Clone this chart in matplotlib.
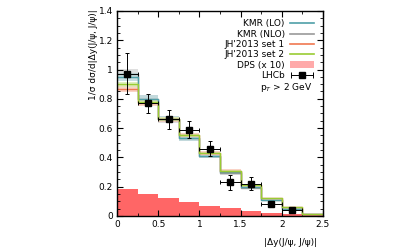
import numpy as np
import matplotlib.pyplot as plt
from matplotlib.patches import Patch
from matplotlib.lines import Line2D
from matplotlib.container import ErrorbarContainer
from matplotlib.legend_handler import HandlerErrorbar

# bin edges in |dy|
edges = np.arange(0, 2.51, 0.25)

# theory predictions (normalised), one value per bin
kmr_lo = [0.95, 0.80, 0.66, 0.53, 0.41, 0.30, 0.20, 0.11, 0.05, 0.01]
kmr_nlo = [0.97, 0.80, 0.66, 0.53, 0.41, 0.29, 0.19, 0.11, 0.05, 0.01]
jh_set1 = [0.87, 0.77, 0.66, 0.55, 0.43, 0.31, 0.21, 0.12, 0.06, 0.01]
jh_set2 = [0.90, 0.78, 0.66, 0.55, 0.43, 0.31, 0.21, 0.12, 0.06, 0.01]
dps = [0.182, 0.15, 0.12, 0.095, 0.07, 0.052, 0.033, 0.021, 0.012, 0.005]

# LHCb data
lhcb_x = [0.125, 0.375, 0.625, 0.875, 1.125, 1.375, 1.625, 1.875, 2.125]
lhcb_y = [0.97, 0.77, 0.66, 0.59, 0.46, 0.23, 0.22, 0.08, 0.04]
lhcb_err = [0.14, 0.065, 0.065, 0.055, 0.05, 0.05, 0.045, 0.022, 0.022]

fig = plt.figure(figsize=(4.14, 2.49), dpi=100)
ax = fig.add_axes([0.283, 0.133, 0.497, 0.823])
fs = 6.5

def step_vals(v):
    return np.append(v, v[-1])

# DPS x10 filled histogram
ax.fill_between(edges, 0, step_vals(dps), step='post', color='#ff6666', lw=0)

series = [
    (kmr_nlo, '#999999', '#d8d8d8', 0.035),
    (kmr_lo, '#4f9fa8', '#bcd8dc', 0.03),
    (jh_set1, '#f07850', '#f8c8b8', 0.025),
    (jh_set2, '#99cc33', '#d8ecb0', 0.02),
]
for vals, col, band, w in series:
    v = np.array(vals)
    ax.fill_between(edges, step_vals(v * (1 - w)), step_vals(v * (1 + w)),
                    step='post', color=band, lw=0, alpha=0.8)
for vals, col, band, w in series:
    ax.step(edges, step_vals(np.array(vals)), where='post', color=col, lw=1.0)

ax.errorbar(lhcb_x, lhcb_y, xerr=0.125, yerr=lhcb_err, fmt='s', color='black',
            ms=4.5, elinewidth=0.7, capsize=1.5, capthick=0.7)

ax.set_xlim(0, 2.5)
ax.set_ylim(0, 1.4)
ax.set_xticks([0, 0.5, 1, 1.5, 2, 2.5])
ax.set_xticklabels(['0', '0.5', '1', '1.5', '2', '2.5'])
ax.set_yticks([0, 0.2, 0.4, 0.6, 0.8, 1, 1.2, 1.4])
ax.set_yticklabels(['0', '0.2', '0.4', '0.6', '0.8', '1', '1.2', '1.4'])
ax.set_xticks(np.arange(0, 2.51, 0.25), minor=True)
ax.set_yticks(np.arange(0, 1.41, 0.05), minor=True)
ax.tick_params(which='both', direction='in', top=True, right=True, labelsize=fs, pad=3)
ax.tick_params(which='major', length=4, width=0.8)
ax.tick_params(which='minor', length=2, width=0.6)
for s in ax.spines.values():
    s.set_linewidth(1.0)

handles = [
    Line2D([], [], color='#4f9fa8', lw=1.2),
    Line2D([], [], color='#999999', lw=1.2),
    Line2D([], [], color='#f07850', lw=1.2),
    Line2D([], [], color='#99cc33', lw=1.2),
    Patch(facecolor='#ffaaaa', lw=0),
]
labels = ['KMR (LO)', 'KMR (NLO)', "JH'2013 set 1", "JH'2013 set 2", 'DPS (x 10)']
# dummy point outside the axes, only used for the legend entry
eb = ax.errorbar([-5], [-5], xerr=[0.1], fmt='s', color='black', ms=4.5,
                 elinewidth=0.7, capsize=2, capthick=0.7)
handles.append(eb)
labels.append('LHCb')
ax.legend(handles, labels, loc='upper right', frameon=False, fontsize=fs,
          markerfirst=False, handlelength=2.6, handletextpad=0.6,
          labelspacing=0.15, borderaxespad=0.3, bbox_to_anchor=(0.985, 0.99),
          handler_map={ErrorbarContainer: HandlerErrorbar(xerr_size=1.2)})
ax.text(0.95, 0.625, r'p$_T$ > 2 GeV', transform=ax.transAxes, ha='right',
        va='center', fontsize=fs)

ax.set_xlabel('|Δy(J/ψ, J/ψ)|', fontsize=fs)
ax.xaxis.set_label_coords(0.97, -0.11)
ax.xaxis.label.set_ha('right')
fig.text(0.225, 0.6, '1/σ dσ/d|Δy(J/ψ, J/ψ)|', rotation=90, ha='center',
         va='bottom', fontsize=fs)

fig.savefig('out.png', dpi=100)
